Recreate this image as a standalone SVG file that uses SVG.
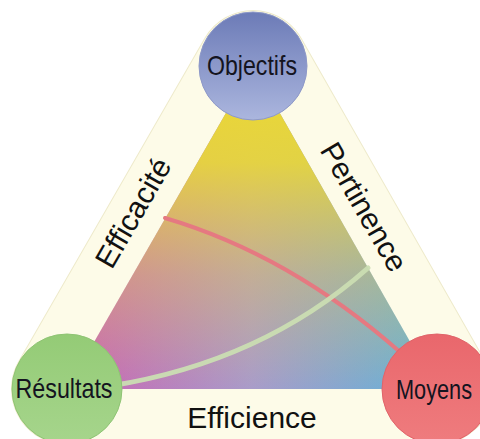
<svg xmlns="http://www.w3.org/2000/svg" width="480" height="439" viewBox="0 0 480 439">
  <defs>
    <linearGradient id="baseGrad" gradientUnits="userSpaceOnUse" x1="67" y1="0" x2="437" y2="0">
      <stop offset="0" stop-color="#CB63B2"/>
      <stop offset="0.5" stop-color="#A99CC9"/>
      <stop offset="1" stop-color="#62B4D6"/>
    </linearGradient>
    <linearGradient id="yellowGrad" gradientUnits="userSpaceOnUse" x1="0" y1="66" x2="0" y2="388">
      <stop offset="0" stop-color="#ECD932" stop-opacity="1"/>
      <stop offset="0.3" stop-color="#ECD932" stop-opacity="0.88"/>
      <stop offset="0.65" stop-color="#EAC84A" stop-opacity="0.4"/>
      <stop offset="1" stop-color="#EAC84A" stop-opacity="0"/>
    </linearGradient>
    <linearGradient id="gBlue" x1="0" y1="0" x2="0" y2="1">
      <stop offset="0" stop-color="#6C7BB7"/>
      <stop offset="1" stop-color="#ABB6DE"/>
    </linearGradient>
    <linearGradient id="gGreen" x1="0" y1="0" x2="0" y2="1">
      <stop offset="0" stop-color="#94CB76"/>
      <stop offset="1" stop-color="#A6D58C"/>
    </linearGradient>
    <linearGradient id="gRed" x1="0" y1="0" x2="0" y2="1">
      <stop offset="0" stop-color="#E9676C"/>
      <stop offset="1" stop-color="#EF7C7E"/>
    </linearGradient>
  </defs>
  <style>
    .band-edge { fill: none; stroke: #EEEACB; stroke-width: 112; stroke-linejoin: round; }
    .band { fill: #FDFBE8; stroke: #FDFBE8; stroke-width: 110; stroke-linejoin: round; }
    .node-label { font-family: "Liberation Sans", Arial, sans-serif; font-size: 28px; fill: #141420; text-anchor: middle; }
    .band-label { font-family: "Liberation Sans", Arial, sans-serif; font-size: 30px; fill: #111111; text-anchor: middle; }
    .conn { fill: none; stroke-linecap: round; }
  </style>

  <g id="background">
    <polygon class="band-edge" points="253,66 67,389 437,389"/>
    <polygon class="band" points="253,66 67,389 437,389"/>
    <polygon points="253,66 67,389 437,389" fill="url(#baseGrad)"/>
    <polygon points="253,66 67,389 437,389" fill="url(#yellowGrad)"/>
  </g>

  <g id="connectors">
    <path class="conn" d="M165,218 Q290,255 400,352" stroke="#E57981" stroke-width="4"/>
    <path class="conn" d="M110,386 Q262,362 368,268" stroke="#CADDB2" stroke-width="5" stroke-opacity="0.95"/>
  </g>

  <g id="labels">
    <text class="band-label" transform="translate(142,218) rotate(-60)">Efficacité</text>
    <text class="band-label" transform="translate(355,212) rotate(60)">Pertinence</text>
    <text class="band-label" x="252" y="428" font-size="31">Efficience</text>
  </g>

  <g id="node-objectifs">
    <circle cx="253" cy="66" r="54" fill="url(#gBlue)" stroke="#8E99C8" stroke-width="1"/>
    <text class="node-label" x="252" y="75" textLength="90" lengthAdjust="spacingAndGlyphs">Objectifs</text>
  </g>

  <g id="node-resultats">
    <circle cx="67" cy="389" r="55" fill="url(#gGreen)" stroke="#8FC474" stroke-width="1"/>
    <text class="node-label" x="64" y="398" textLength="97" lengthAdjust="spacingAndGlyphs">Résultats</text>
  </g>

  <g id="node-moyens">
    <circle cx="437" cy="389" r="55" fill="url(#gRed)" stroke="#E0646A" stroke-width="1"/>
    <text class="node-label" x="434" y="399" textLength="76" lengthAdjust="spacingAndGlyphs">Moyens</text>
  </g>
</svg>
